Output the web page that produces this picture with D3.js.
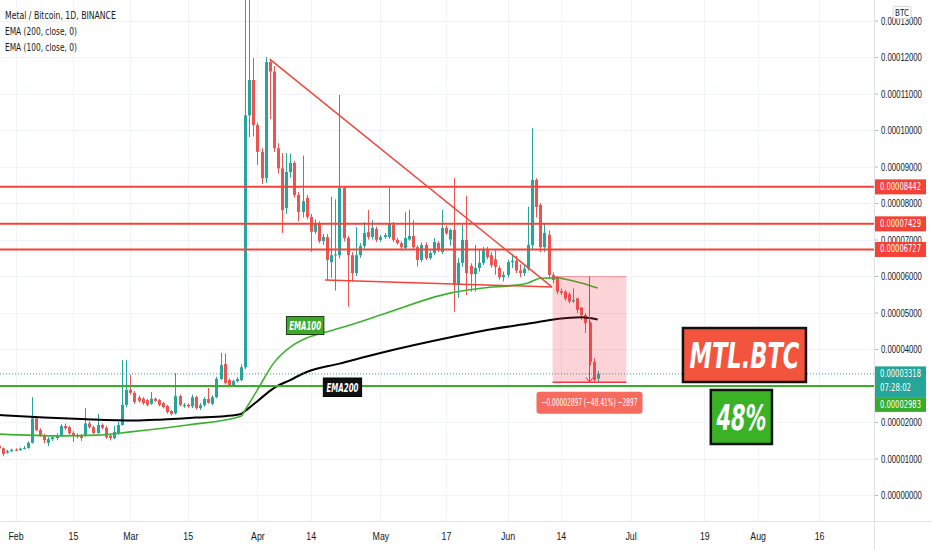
<!DOCTYPE html>
<html>
<head>
<meta charset="utf-8">
<script src="https://cdn.jsdelivr.net/npm/d3@7"></script>
<style>
  body { margin: 0; background: #fff; }
  svg { display: block; font-family: "DejaVu Sans Condensed", "Liberation Sans", sans-serif; }
</style>
</head>
<body>
<svg id="chart" width="932" height="550"></svg>
<script>
// MTL/BTC daily candles, prices in units of 1e-9 BTC, one entry per day from firstDay
var firstDay = "2021-01-28";
var opens = [13500,12800,11600,12000,12400,12300,12700,12900,14300,21000,17800,16400,14300,15300,15600,16200,18900,18600,17000,16400,
  16300,16400,19600,18600,17000,19200,18400,16300,15600,16900,19200,24700,28800,28000,26700,26400,26000,25000,26400,26000,
  25200,24400,23000,22400,27100,24300,24700,24300,26800,23800,24600,26300,25000,26800,31800,35900,31500,30000,31200,31500,
  35000,104000,113700,101400,94000,86800,118600,116000,95000,89500,78600,88500,91000,82200,77500,81400,76200,72100,74500,69600,
  70700,63800,65700,65700,84100,70400,65700,60800,65700,68200,72000,70700,72900,69900,70700,70700,74000,69900,69000,67700,
  70000,71000,67900,64400,68500,64900,66300,69000,66600,73200,70000,72600,57500,63600,69900,62800,60500,62200,63600,67100,
  65700,64600,62200,59700,60300,63800,64200,61500,60800,62000,68500,86300,79500,67900,71300,60300,59400,55900,55700,55000,
  53000,53900,51400,49300,47100,36500,31900];
var highs = [13700,13000,12400,12700,12800,13000,13400,14700,26800,21400,18300,16800,15800,16400,16900,19400,19600,19000,17500,16900,
  16700,23800,20200,18900,22200,19600,19000,16800,19000,20000,37000,37000,32900,28500,27300,26800,26300,28200,26700,26300,
  25500,24700,23300,33400,27500,25200,25100,27500,27200,25200,26800,29300,27300,32400,38900,38800,31900,31600,32300,35800,
  140000,138000,119700,102000,95000,120000,119500,117500,96400,93700,93700,93500,91500,83000,93000,82200,77000,75500,75000,71500,
  71500,81700,81000,109600,84500,71000,66500,73400,69000,74800,78100,75300,73500,71300,71800,84100,74800,70500,69500,77500,
  78100,75300,68400,69200,69200,67000,70400,69600,78100,73800,73000,86800,65000,74000,82000,63500,68500,67100,68000,68000,
  66500,67100,62800,61200,64500,66000,65500,63200,63000,79000,100500,86800,80000,74400,72500,61000,60000,56600,56200,55600,
  56600,54000,51400,49800,47600,37500,34000];
var lows = [12500,10600,11300,11800,12000,12100,12500,12700,14100,17500,16000,14200,13400,14800,15000,16000,17800,16500,14500,15500,
  14800,16000,18200,16600,16800,18000,15400,15000,15300,16500,19000,24000,27500,25000,25300,24700,24300,24700,25400,24300,
  23700,22300,21800,22000,24300,23900,23900,23800,23400,23300,24200,25000,24600,26500,31500,30300,29700,29600,30800,31200,
  34500,98000,98200,90400,85200,85500,103000,94000,88000,71800,77000,87000,81500,75000,76000,75500,66600,71500,69000,68500,
  58900,59500,56000,64800,69500,51600,58500,60000,65000,67500,70000,70000,69300,69400,70200,70200,69300,68600,67000,67300,
  69700,67400,62600,63800,64400,64500,65800,66600,66000,71300,68300,50200,54000,62500,54800,55700,55700,61200,63000,64600,
  62300,60300,59000,58500,59500,62200,60800,59700,60000,61500,67000,76000,66500,66500,59500,58000,55000,54800,53200,52500,
  52600,49800,47900,44400,35500,30800,31000];
var closes = [12800,11200,12000,12400,12300,12700,12900,14300,21000,17800,16400,15000,15300,15800,16400,18900,18300,16900,16400,16000,
  15600,19600,18600,17000,19200,18400,15800,15600,17300,19200,24700,28800,28000,25500,25800,25200,24700,26400,25800,24700,
  24100,22700,22200,27100,24700,24700,24300,26800,23800,24600,26300,25300,26800,31800,35600,30700,30100,31200,31800,35000,
  104000,113700,101400,94000,86800,118600,116000,95000,89500,78000,88500,91000,82200,77500,80500,76200,72100,74500,69600,70700,
  64400,65700,65900,84100,70400,65700,60800,65700,68200,71800,70700,73200,69900,70700,71200,74500,69900,69000,67900,70400,
  71000,67900,64400,68500,64900,66300,69300,67100,73200,71700,72600,57500,63600,69900,60800,60500,62200,63600,67100,65200,
  63000,62500,59700,60300,63800,64200,61500,60800,62000,68500,86300,78900,67900,71800,60300,58900,55700,55400,53800,53000,
  53400,50700,49300,47100,36500,31500,33180];

// EMA values
var ema200Dates = ["2021-01-28","2021-02-08","2021-02-17","2021-03-02","2021-03-09","2021-03-17","2021-03-24","2021-03-28",
  "2021-03-29","2021-04-01","2021-04-05","2021-04-09","2021-04-13","2021-04-21","2021-05-01","2021-05-19","2021-05-27",
  "2021-06-07","2021-06-13","2021-06-19","2021-06-21","2021-06-23"];
var ema200Values = [21900,21200,20800,20400,20700,21200,21600,22200,23000,25700,29300,31500,33700,36000,38900,43400,45200,
  47100,48200,48700,48500,48100];
var ema100Dates = ["2021-01-28","2021-02-12","2021-02-21","2021-03-01","2021-03-15","2021-03-28","2021-03-29","2021-04-01",
  "2021-04-05","2021-04-09","2021-04-13","2021-04-17","2021-04-22","2021-05-01","2021-05-18","2021-05-26","2021-06-03",
  "2021-06-06","2021-06-09","2021-06-13","2021-06-16","2021-06-19","2021-06-23"];
var ema100Values = [16700,16200,16400,17300,19200,21600,23300,28800,36200,40500,43000,44400,46000,49300,55300,56700,57500,
  58100,59400,59500,58900,58100,56700];

// axis ticks
var priceTicks = [0,10000,20000,30000,40000,50000,60000,70000,80000,90000,100000,110000,120000,130000];
var dateTicks = ["2021-02-01","2021-02-15","2021-03-01","2021-03-15","2021-04-01","2021-04-14","2021-05-01","2021-05-17",
  "2021-06-01","2021-06-14","2021-07-01","2021-07-19","2021-08-01","2021-08-16"];
var dateTickLabels = ["Feb","15","Mar","15","Apr","14","May","17","Jun","14","Jul","19","Aug","16"];

// drawings
var resistanceLevels = [84420, 74290, 67270];
var supportLevel = 29830;
var lastPrice = 33180;
var countdown = "07:28:02";
var wedgeTop = [["2021-04-04", 119400], ["2021-06-11T20:00", 57000]];
var wedgeBottom = [["2021-04-17T12:00", 58900], ["2021-06-11T20:00", 57000]];
var measure = { from: "2021-06-12", to: "2021-06-30", top: 59840, bottom: 30870, arrowAt: "2021-06-21" };
var measureText = "\u22120.00002897 (\u221248.41%) \u22122897";
var legend = ["Metal / Bitcoin, 1D, BINANCE", "EMA (200, close, 0)", "EMA (100, close, 0)"];

var svg = d3.select("#chart");
var plotRight = 874, plotBottom = 521;
var up = "#26a69a", down = "#ef5350", red = "#f44336", green = "#38ad2c";

var day = function (s) { return new Date(s.length > 10 ? s + "Z" : s + "T00:00Z"); };
var x = d3.scaleUtc().domain([day("2021-02-01"), day("2021-08-16")]).range([15.5, 819.1]);
var y = d3.scaleLinear().domain([0, 130000]).range([495, 20.5]);
var fmt = function (v) { return d3.format(".8f")(v / 1e9); };

// squeeze a text horizontally to a given width, keeping its anchor point
function squeeze(sel, width) {
  sel.each(function (d, i) {
    var t = d3.select(this), w = this.getComputedTextLength();
    var want = typeof width === "function" ? width(d, i, w) : width;
    var x0 = +t.attr("x") || 0, y0 = +t.attr("y") || 0;
    t.attr("x", 0).attr("y", 0)
      .attr("transform", "translate(" + x0 + "," + y0 + ") scale(" + (want / w) + ",1)");
  });
}

var start = day(firstDay);
var candles = closes.map(function (c, i) {
  return { date: d3.utcDay.offset(start, i), o: opens[i], h: highs[i], l: lows[i], c: c };
});

svg.append("defs").append("clipPath").attr("id", "plot")
  .append("rect").attr("width", plotRight).attr("height", plotBottom);

// grid
var grid = svg.append("g").attr("stroke", "#f0f3fa").attr("stroke-width", 1);
grid.selectAll(".hg").data(priceTicks).enter().append("line")
  .attr("x1", 0).attr("x2", plotRight).attr("y1", function (d) { return Math.round(y(d)) + 0.5; })
  .attr("y2", function (d) { return Math.round(y(d)) + 0.5; });
grid.selectAll(".vg").data(dateTicks).enter().append("line")
  .attr("y1", 0).attr("y2", plotBottom).attr("x1", function (d) { return Math.round(x(day(d))) + 0.5; })
  .attr("x2", function (d) { return Math.round(x(day(d))) + 0.5; });

var plot = svg.append("g").attr("clip-path", "url(#plot)");

// candles
var cg = plot.append("g");
cg.selectAll(".wick").data(candles).enter().append("line")
  .attr("x1", function (d) { return Math.round(x(d.date)) + 0.5; })
  .attr("x2", function (d) { return Math.round(x(d.date)) + 0.5; })
  .attr("y1", function (d) { return y(d.h); }).attr("y2", function (d) { return y(d.l); })
  .attr("stroke", function (d) { return d.c >= d.o ? up : down; }).attr("stroke-width", 1);
cg.selectAll(".body").data(candles).enter().append("rect")
  .attr("x", function (d) { return Math.round(x(d.date)) - 1; })
  .attr("width", 3)
  .attr("y", function (d) { return y(Math.max(d.o, d.c)); })
  .attr("height", function (d) { return Math.max(1, Math.abs(y(d.o) - y(d.c))); })
  .attr("fill", function (d) { return d.c >= d.o ? up : down; });

// EMA lines
var emaLine = d3.line().curve(d3.curveMonotoneX)
  .x(function (d) { return x(day(d[0])); }).y(function (d) { return y(d[1]); });
plot.append("path").datum(d3.zip(ema200Dates, ema200Values)).attr("d", emaLine)
  .attr("fill", "none").attr("stroke", "#000").attr("stroke-width", 2);
plot.append("path").datum(d3.zip(ema100Dates, ema100Values)).attr("d", emaLine)
  .attr("fill", "none").attr("stroke", "#3db12f").attr("stroke-width", 1.6);

// last price dotted line
plot.append("line").attr("x1", 0).attr("x2", plotRight)
  .attr("y1", y(lastPrice)).attr("y2", y(lastPrice))
  .attr("stroke", up).attr("stroke-dasharray", "1,2");

// horizontal levels
plot.selectAll(".lvl").data(resistanceLevels).enter().append("line")
  .attr("x1", 0).attr("x2", plotRight).attr("y1", function (d) { return y(d); }).attr("y2", function (d) { return y(d); })
  .attr("stroke", red).attr("stroke-width", 2);
plot.append("line").attr("x1", 0).attr("x2", plotRight).attr("y1", y(supportLevel)).attr("y2", y(supportLevel))
  .attr("stroke", green).attr("stroke-width", 2);

// wedge drawing
var segLine = d3.line().x(function (d) { return x(day(d[0])); }).y(function (d) { return y(d[1]); });
[wedgeTop, wedgeBottom].forEach(function (pts) {
  plot.append("path").attr("d", segLine(pts)).attr("fill", "none").attr("stroke", red).attr("stroke-width", 1.5);
});

// measure tool
var mx0 = x(day(measure.from)), mx1 = x(day(measure.to));
var my0 = y(measure.top), my1 = y(measure.bottom);
var ax = x(day(measure.arrowAt));
plot.append("rect").attr("x", mx0).attr("y", my0).attr("width", mx1 - mx0).attr("height", my1 - my0)
  .attr("fill", "rgba(242,54,69,0.22)");
plot.append("line").attr("x1", mx0).attr("x2", mx1).attr("y1", my0).attr("y2", my0)
  .attr("stroke", "rgba(242,54,69,0.45)").attr("stroke-width", 1);
plot.append("line").attr("x1", mx0).attr("x2", mx1).attr("y1", my1).attr("y2", my1)
  .attr("stroke", "#f23645").attr("stroke-width", 1.5);
plot.append("line").attr("x1", ax).attr("x2", ax).attr("y1", my0).attr("y2", my1)
  .attr("stroke", "#f23645").attr("stroke-width", 1);
plot.append("path").attr("d", "M" + (ax - 3.5) + "," + (my1 - 5) + "L" + ax + "," + my1 + "L" + (ax + 3.5) + "," + (my1 - 5))
  .attr("fill", "none").attr("stroke", "#f23645").attr("stroke-width", 1);
var mcx = (mx0 + mx1) / 2;
svg.append("rect").attr("x", mcx - 53).attr("y", my1 + 9.5).attr("width", 106).attr("height", 22).attr("rx", 3)
  .attr("fill", "#f66b5d");
svg.append("text").attr("x", mcx).attr("y", my1 + 21).attr("text-anchor", "middle").attr("dominant-baseline", "middle")
  .attr("fill", "#fff").attr("font-size", 10).text(measureText)
  .call(squeeze, 96);

// text boxes anchored in time/price
function textBox(t0, t1, p0, p1, fill, stroke, sw, label, size, len) {
  var bx0 = x(day(t0)), bx1 = x(day(t1)), by0 = y(p0), by1 = y(p1);
  svg.append("rect").attr("x", bx0).attr("y", by0).attr("width", bx1 - bx0).attr("height", by1 - by0)
    .attr("fill", fill).attr("stroke", stroke).attr("stroke-width", sw);
  svg.append("text").attr("x", (bx0 + bx1) / 2).attr("y", (by0 + by1) / 2 + size * 0.36)
    .attr("text-anchor", "middle").attr("fill", "#fff").attr("font-size", size)
    .attr("font-weight", "bold").attr("font-style", "italic").text(label)
    .call(squeeze, len);
}
textBox("2021-04-08T02:00", "2021-04-17T05:00", 48900, 43970, "#3ea82b", "#1e3d14", 1, "EMA100", 12, 32);
textBox("2021-04-17T02:00", "2021-04-26T10:00", 32050, 26990, "#111", "#000", 1, "EMA200", 12, 32);
textBox("2021-07-13T19:00", "2021-08-12T19:00", 45750, 30960, "#f2543d", "#111", 2.5, "MTL.BTC", 36, 110);
textBox("2021-07-20T14:00", "2021-08-04T12:00", 28770, 13970, "#3bb226", "#111", 2.5, "48%", 36, 50);

// axes borders
svg.append("line").attr("x1", plotRight + 0.5).attr("x2", plotRight + 0.5).attr("y1", 0).attr("y2", 550)
  .attr("stroke", "#e0e3eb");
svg.append("line").attr("x1", 0).attr("x2", 932).attr("y1", plotBottom + 0.5).attr("y2", plotBottom + 0.5)
  .attr("stroke", "#e0e3eb");

// price axis (the tick hidden behind the last-price tag is left out)
var tealTop = y(lastPrice) - 7.5, tealH = 31.5;
var shownTicks = priceTicks.filter(function (p) { return y(p) < tealTop || y(p) > tealTop + tealH + 14; });
var yAxis = svg.append("g").attr("transform", "translate(" + (plotRight + 1) + ",0)")
  .call(d3.axisRight(y).tickValues(shownTicks).tickFormat(fmt).tickSize(3).tickPadding(3));
yAxis.select(".domain").remove();
yAxis.selectAll(".tick line").attr("stroke", "#b2b5be");
yAxis.selectAll("text").attr("fill", "#131722").attr("font-size", 11).attr("font-family", null)
  .call(squeeze, 41);

// date axis
var xAxis = svg.append("g").attr("transform", "translate(0," + plotBottom + ")")
  .call(d3.axisBottom(x).tickValues(dateTicks.map(day)).tickSize(0).tickPadding(11)
    .tickFormat(function (d, i) { return dateTickLabels[i]; }));
xAxis.select(".domain").remove();
xAxis.selectAll("text").attr("fill", "#131722").attr("font-size", 11).attr("font-family", null)
  .call(squeeze, function (d, i, w) { return w * 0.8; });

// price labels on the axis
function priceTag(top, h, fill, lines, lens) {
  svg.append("rect").attr("x", plotRight + 1).attr("y", top).attr("width", 51).attr("height", h).attr("fill", fill);
  lines.forEach(function (t, i) {
    svg.append("text").attr("x", plotRight + 6).attr("y", top + 7.5 + i * 14.5).attr("dominant-baseline", "middle")
      .attr("fill", "#fff").attr("font-size", 11).text(t)
      .call(squeeze, lens[i]);
  });
}
resistanceLevels.forEach(function (p) { priceTag(y(p) - 7.5, 15, red, [fmt(p)], [41]); });
priceTag(tealTop, tealH, up, [fmt(lastPrice), countdown], [41, 31]);
svg.append("line").attr("x1", plotRight + 1).attr("x2", plotRight + 5).attr("y1", y(supportLevel)).attr("y2", y(supportLevel))
  .attr("stroke", green).attr("stroke-width", 2);
priceTag(tealTop + tealH, 14, green, [fmt(supportLevel)], [41]);

// currency badge
svg.append("rect").attr("x", 893).attr("y", 6.5).attr("width", 18).attr("height", 12).attr("rx", 2)
  .attr("fill", "#fff").attr("stroke", "#d1d4dc");
svg.append("text").attr("x", 902).attr("y", 13).attr("text-anchor", "middle").attr("dominant-baseline", "middle")
  .attr("font-size", 8).attr("fill", "#131722").text("BTC");

// legend
var legendLens = [111, 72, 72];
svg.selectAll(".legend").data(legend).enter().append("text")
  .attr("x", 5).attr("y", function (d, i) { return 16 + i * 16; }).attr("dominant-baseline", "middle")
  .attr("font-size", 10.5).attr("fill", "#131722")
  .text(function (d) { return d; })
  .call(squeeze, function (d, i) { return legendLens[i]; });
</script>
</body>
</html>
